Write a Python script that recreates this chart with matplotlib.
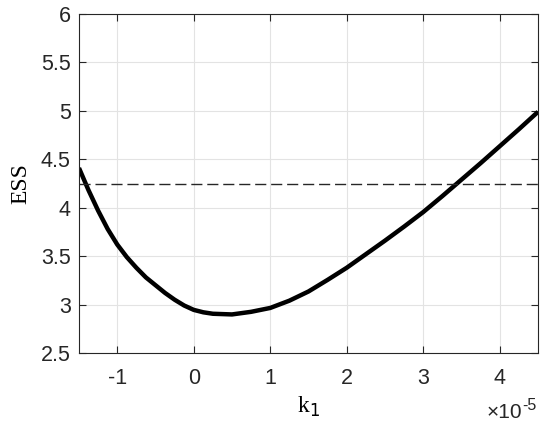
import matplotlib
matplotlib.use("Agg")
import matplotlib.pyplot as plt

# ESS versus k1 (k1 in units of 1e-5)
K1_SCALED = [-1.5, -1.375, -1.25, -1.125, -1.0, -0.875, -0.75, -0.625,
             -0.5, -0.375, -0.25, -0.125, 0.0, 0.125, 0.25, 0.5, 0.75,
             1.0, 1.25, 1.5, 1.75, 2.0, 2.25, 2.5, 2.75, 3.0, 3.25,
             3.5, 3.75, 4.0, 4.25, 4.5]
ESS = [4.41, 4.18, 3.97, 3.78, 3.62, 3.49, 3.38, 3.28,
       3.20, 3.12, 3.05, 2.99, 2.945, 2.92, 2.905, 2.898, 2.925,
       2.965, 3.04, 3.135, 3.255, 3.38, 3.52, 3.66, 3.805, 3.955, 4.12,
       4.29, 4.46, 4.635, 4.81, 4.99]
THRESHOLD = 4.245
X_TICKS = [-1, 0, 1, 2, 3, 4]
Y_TICKS = [2.5, 3, 3.5, 4, 4.5, 5, 5.5, 6]
Y_TICKLABELS = ['2.5', '3', '3.5', '4', '4.5', '5', '5.5', '6']

plt.rcParams['axes.unicode_minus'] = False
plt.rcParams['font.family'] = ['Liberation Sans', 'DejaVu Sans']

fig = plt.figure(figsize=(5.5, 4.33), dpi=100)
ax = fig.add_axes([0.1436, 0.1848, 0.8346, 0.7829])

ax.plot(K1_SCALED, ESS, color='black', linewidth=3.2,
        solid_joinstyle='round', solid_capstyle='butt')
ax.axhline(THRESHOLD, color='#262626', linewidth=1.0, linestyle=(0, (8, 3.5)))

ax.set_xlim(-1.5, 4.5)
ax.set_ylim(2.5, 6)
ax.set_xticks(X_TICKS)
ax.set_yticks(Y_TICKS)
ax.set_yticklabels(Y_TICKLABELS)
ax.grid(True, color='#e3e3e3', linewidth=0.8)
ax.set_axisbelow(True)
ax.tick_params(direction='in', top=True, right=True, length=5, width=0.8,
               labelsize=15.5, colors='#262626')
ax.tick_params(axis='x', pad=11)
ax.tick_params(axis='y', pad=6)
for s in ax.spines.values():
    s.set_color('#262626')
    s.set_linewidth(0.8)

ax.set_xlabel('k$_1$', family='Liberation Serif', fontsize=17, labelpad=4)
ax.set_ylabel('ESS', family='Liberation Serif', fontsize=17, labelpad=6.5)

# exponent label in the MATLAB style, below the right end of the x axis
ax.text(0.966, -0.147, '\u00d710', transform=ax.transAxes,
        ha='right', va='top', fontsize=15, color='#262626')
ax.text(0.966, -0.133, '-5', transform=ax.transAxes,
        ha='left', va='top', fontsize=11.5, color='#262626')

fig.savefig('out.png', dpi=100)
